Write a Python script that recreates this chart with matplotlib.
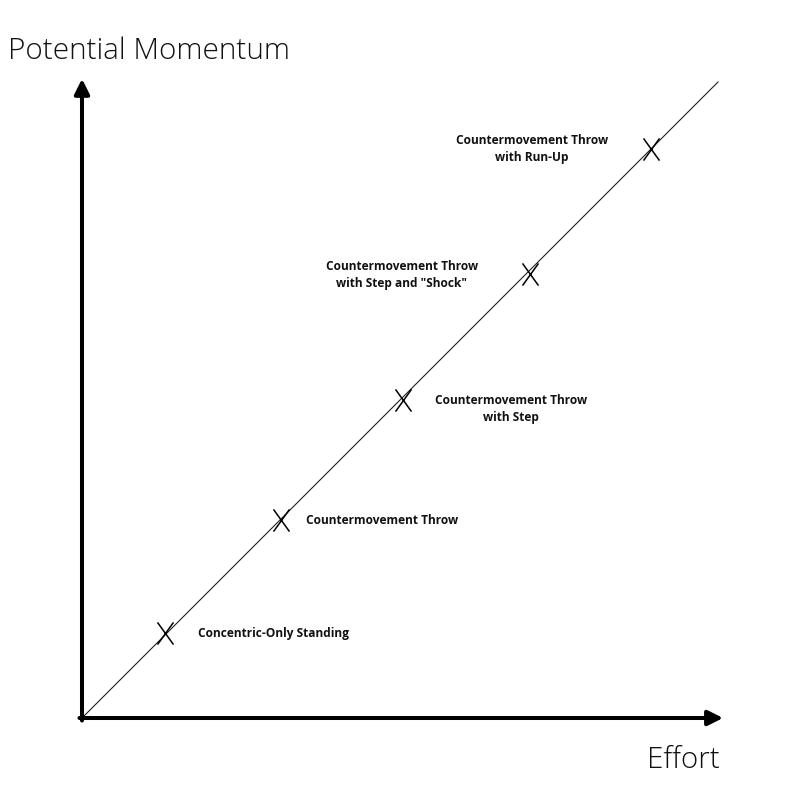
import numpy as np
import matplotlib
matplotlib.use("Agg")
import matplotlib.pyplot as plt
from matplotlib.path import Path

plt.rcParams['font.family'] = ['Open Sans', 'DejaVu Sans']

# stages along the effort / momentum line (0..1 scale)
labels = ['Concentric-Only Standing',
          'Countermovement Throw',
          'Countermovement Throw\nwith Step',
          'Countermovement Throw\nwith Step and "Shock"',
          'Countermovement Throw\nwith Run-Up']
effort = [0.13, 0.313, 0.505, 0.704, 0.895]
momentum = [0.134, 0.311, 0.50, 0.698, 0.895]

# label placement (pixel offsets from marker, alignment)
offsets = [(33, -1), (25, 0), (108, -9), (-128, -1), (-119, 0)]
aligns = ['left', 'left', 'center', 'center', 'center']

# tall hand-drawn style cross
cross = Path([(-0.72, -1), (0.72, 1), (-0.72, 1), (0.72, -1)],
             [Path.MOVETO, Path.LINETO, Path.MOVETO, Path.LINETO])

fig = plt.figure(figsize=(8, 8), dpi=100)
ax = fig.add_axes([0.1025, 0.1025, 0.795, 0.795])
ax.set_xlim(0, 1)
ax.set_ylim(0, 1)
ax.axis('off')

# diagonal line
ax.plot([0, 1], [0, 1], color='#222222', lw=0.8, clip_on=False)

# axes arrows
arrow = dict(arrowstyle='-|>,head_length=0.9,head_width=0.45', color='black',
             lw=2.9, shrinkA=0, shrinkB=0)
ax.annotate('', xy=(1.008, 0), xytext=(-0.004, 0), arrowprops=arrow,
            annotation_clip=False)
ax.annotate('', xy=(0, 1.005), xytext=(0, -0.004), arrowprops=arrow,
            annotation_clip=False)

ax.plot(effort, momentum, linestyle='none', marker=cross, ms=16, mew=1.1,
        color='black', clip_on=False)

for x, y, lab, off, ha in zip(effort, momentum, labels, offsets, aligns):
    ax.annotate(lab, xy=(x, y), xytext=off, textcoords='offset pixels',
                ha=ha, va='center', multialignment='center',
                fontsize=8.6, fontweight='bold', color='#111111',
                linespacing=1.4)

fig.text(8 / 800, 1 - 51 / 800, 'Potential Momentum', fontsize=21.3,
         fontweight='light', ha='left', va='center', color='#111111')
fig.text(720 / 800, 1 - 760 / 800, 'Effort', fontsize=21.3,
         fontweight='light', ha='right', va='center', color='#111111')

fig.savefig('out.png', dpi=100, facecolor='white')
